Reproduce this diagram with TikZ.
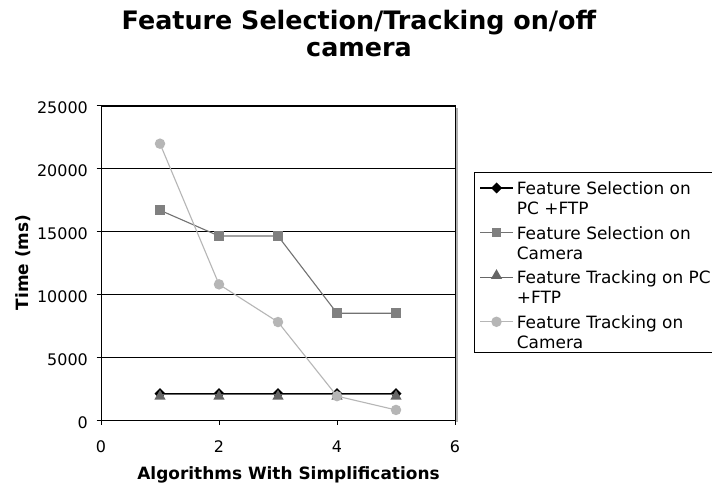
\documentclass[tikz,border=0pt]{standalone}
\usepackage{fontspec}
\setmainfont{DejaVu Sans}
\usetikzlibrary{shapes.geometric}
\definecolor{sqcol}{HTML}{808080}
\definecolor{sqline}{HTML}{727272}
\definecolor{tricol}{HTML}{666666}
\definecolor{circol}{HTML}{B6B6B6}
\definecolor{shadowcol}{HTML}{B0B0B0}
\tikzset{
  gridline/.style={line width=0.9bp, black},
  axisline/.style={line width=1bp, black},
  ticklab/.style={inner sep=0, font=\fontsize{16}{19}\selectfont},
  leglab/.style={inner sep=0, anchor=base west, font=\fontsize{17}{20}\selectfont},
  axtitle/.style={inner sep=0, anchor=base, font=\bfseries\fontsize{17}{20}\selectfont},
  titlelab/.style={inner sep=0, anchor=base, font=\bfseries\fontsize{25.5}{28}\selectfont},
  mk/.style={inner sep=0, outer sep=0},
  diamk/.style={mk, diamond, minimum width=11bp, minimum height=11bp, fill=black},
  sqmk/.style={mk, rectangle, minimum size=9.5bp, fill=sqcol},
  trimk/.style={mk, regular polygon, regular polygon sides=3, minimum size=13bp, fill=tricol},
  cirmk/.style={mk, circle, minimum size=10.5bp, fill=circol},
  serA/.style={line width=1.8bp, black},
  serB/.style={line width=1.1bp, sqline},
  serC/.style={line width=1.1bp, tricol},
  serD/.style={line width=1.1bp, circol},
}
\begin{document}
\begin{tikzpicture}[x=1bp,y=-1bp]
\useasboundingbox (0,0) rectangle (712,487);
\clip (0,0) rectangle (712,487);
\fill[white] (0,0) rectangle (712,487);

% title
\node[titlelab] (title1) at (359,29.3) {Feature Selection/Tracking on/off};
\node[titlelab] (title2) at (359,57) {camera};

% plot frame corners
\coordinate (pBL) at (101,420);
\coordinate (pTL) at (101,106);
\coordinate (pTR) at (455,106);
\coordinate (pBR) at (455,420);

% shadow on the right of the plot area
\draw[shadowcol, line width=2bp] (457,108) -- (457,422);

% gridlines and y ticks / labels (values in thousands)
\foreach \k in {5,10,15,20,25}{
  \coordinate (g\k L) at (101,{420-12.56*\k});
  \coordinate (g\k R) at (455,{420-12.56*\k});
  \draw[gridline] (g\k L) -- (g\k R);
}
\foreach \k/\lab in {0/0,5/5000,10/10000,15/15000,20/20000,25/25000}{
  \coordinate (yt\k) at (101,{420-12.56*\k});
  \coordinate (ys\k) at (96.5,{420-12.56*\k});
  \draw[axisline] (ys\k) -- (yt\k);
  \node[ticklab, anchor=base east] (ylab\k) at (88,{428-12.56*\k}) {\lab};
}
% x ticks / labels
\foreach \x in {0,2,4,6}{
  \coordinate (xt\x) at ({101+59*\x},420);
  \coordinate (xs\x) at ({101+59*\x},424.5);
  \draw[axisline] (xt\x) -- (xs\x);
  \node[ticklab, anchor=base] (xlab\x) at ({101+59*\x},452.5) {\x};
}
% frame
\draw[axisline] (pTL) -- (pBL) -- (pBR);
\draw[axisline] (pTL) -- (pTR) -- (pBR);

% axis titles
\node[axtitle] (xtitle) at (288.5,479) {Algorithms With Simplifications};
\node[axtitle, rotate=90] (ytitle) at (28.5,262.5) {Time (ms)};

% data points (values in thousands of ms)
\foreach \i/\v in {1/2.1,2/2.1,3/2.1,4/2.1,5/2.1}{\coordinate (a\i) at ({101+59*\i},{420-12.56*\v});}
\foreach \i/\v in {1/16.7,2/14.65,3/14.65,4/8.5,5/8.5}{\coordinate (b\i) at ({101+59*\i},{420-12.56*\v});}
\foreach \i/\v in {1/2.0,2/2.0,3/2.0,4/2.0,5/2.0}{\coordinate (c\i) at ({101+59*\i},{420-12.56*\v});}
\foreach \i/\v in {1/22.0,2/10.8,3/7.8,4/1.9,5/0.8}{\coordinate (d\i) at ({101+59*\i},{420-12.56*\v});}

% series A
\draw[serA] (a1) -- (a2) -- (a3) -- (a4) -- (a5);
\foreach \i in {1,...,5}{\node[diamk] (ma\i) at (a\i) {};}
% series B
\draw[serB] (b1) -- (b2) -- (b3) -- (b4) -- (b5);
\foreach \i in {1,...,5}{\node[sqmk] (mb\i) at (b\i) {};}
% series C
\draw[serC] (c1) -- (c2) -- (c3) -- (c4) -- (c5);
\foreach \i in {1,...,5}{\node[trimk] (mc\i) at ([yshift=-1.5bp]c\i) {};}
% series D
\draw[serD] (d1) -- (d2) -- (d3) -- (d4) -- (d5);
\foreach \i in {1,...,5}{\node[cirmk] (md\i) at (d\i) {};}

% legend
\coordinate (lgTR) at (720,173);
\coordinate (lgTL) at (474,173);
\coordinate (lgBL) at (474,352);
\coordinate (lgBR) at (720,352);
\draw[line width=1bp] (lgTR) -- (lgTL) -- (lgBL) -- (lgBR);

\coordinate (lA0) at (480,188); \coordinate (lA1) at (513,188);
\draw[serA] (lA0) -- (lA1); \node[diamk] (lAm) at (496.5,188) {};
\node[leglab] (lAt1) at (516.7,194.5) {Feature Selection on};
\node[leglab] (lAt2) at (516.7,214.5) {PC +FTP};

\coordinate (lB0) at (480,232.7); \coordinate (lB1) at (513,232.7);
\draw[serB] (lB0) -- (lB1); \node[sqmk] (lBm) at (496.5,232.7) {};
\node[leglab] (lBt1) at (516.7,239.2) {Feature Selection on};
\node[leglab] (lBt2) at (516.7,259.2) {Camera};

\coordinate (lC0) at (480,277.2); \coordinate (lC1) at (513,277.2);
\draw[serC] (lC0) -- (lC1); \node[trimk] (lCm) at (496.5,275.7) {};
\node[leglab] (lCt1) at (516.7,283.7) {Feature Tracking on PC};
\node[leglab] (lCt2) at (516.7,303.7) {+FTP};

\coordinate (lD0) at (480,321.8); \coordinate (lD1) at (513,321.8);
\draw[serD] (lD0) -- (lD1); \node[cirmk] (lDm) at (496.5,321.8) {};
\node[leglab] (lDt1) at (516.7,328.3) {Feature Tracking on};
\node[leglab] (lDt2) at (516.7,348.3) {Camera};
\end{tikzpicture}
\end{document}
